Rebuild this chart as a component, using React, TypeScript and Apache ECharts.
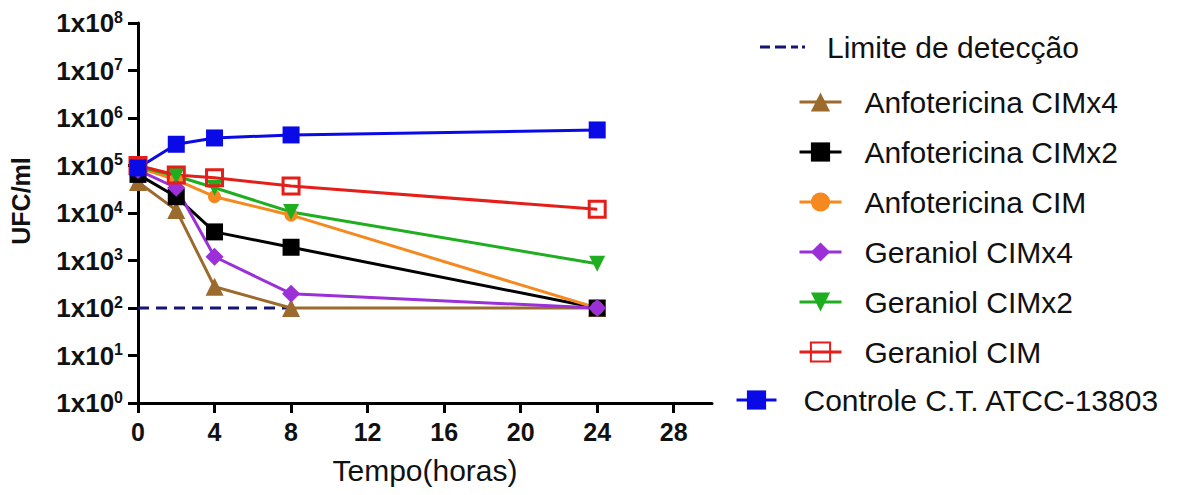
import React, { useEffect, useRef } from "react";
import * as echarts from "echarts";

const hours = [0, 2, 4, 8, 24];
const limitHours = [0, 8];
const limitValues = [100, 100];
const anfoCIMx4 = [45000, 11500, 280, 100, 100];
const anfoCIMx2 = [65000, 22000, 4000, 1900, 100];
const anfoCIM = [90000, 50000, 22000, 9000, 100];
const geraCIMx4 = [80000, 34000, 1200, 200, 100];
const geraCIMx2 = [95000, 60000, 34000, 10500, 850];
const geraCIM = [100000, 63000, 55000, 37000, 12000];
const controle = [89000, 280000, 380000, 440000, 560000];
const xTicks = [0, 4, 8, 12, 16, 20, 24, 28];

const FONT = "'Liberation Sans', Arial, sans-serif";

const pairs = (xs: number[], ys: number[]) => xs.map((x, i) => [x, ys[i]]);

export default function App() {
  const ref = useRef<HTMLDivElement>(null);
  useEffect(() => {
    if (!ref.current) return;
    const chart = echarts.init(ref.current, null, { renderer: "svg" });
    const mk = (
      name: string,
      ys: number[],
      color: string,
      symbol: string,
      size: number
    ) => ({
      name,
      type: "line",
      data: pairs(hours, ys),
      symbol,
      symbolSize: size,
      lineStyle: { color, width: 3 },
      itemStyle: { color },
      emphasis: { disabled: true },
    });
    const legendText = (pad: number) => ({
      fontFamily: FONT,
      fontSize: 30,
      color: "#111",
      lineHeight: 34,
      padding: [0, 0, 0, pad],
    });
    const option: any = {
      animation: false,
      backgroundColor: "#fff",
      grid: { left: 138, right: 477, top: 23, bottom: 92 },
      legend: [
        {
          data: [
            {
              name: "Limite de detecção",
              icon: "path://M0,0h10v3h-10z M15,0h11v3h-11z M31,0h7v3h-7z M42,0h3v3h-3z",
              itemStyle: { color: "#151575" },
            },
          ],
          orient: "vertical",
          left: 760,
          top: 30,
          padding: 0,
          itemWidth: 45,
          itemHeight: 18,
          textStyle: legendText(17),
        },
        {
          data: [
            "Anfotericina CIMx4",
            "Anfotericina CIMx2",
            "Anfotericina CIM",
            "Geraniol CIMx4",
            "Geraniol CIMx2",
            "Geraniol CIM",
          ],
          orient: "vertical",
          left: 798,
          top: 85,
          padding: 0,
          itemGap: 16,
          itemWidth: 42,
          itemHeight: 24,
          lineStyle: { width: 3 },
          textStyle: legendText(18),
        },
        {
          data: ["Controle C.T. ATCC-13803"],
          orient: "vertical",
          left: 735,
          top: 383,
          padding: 0,
          itemWidth: 40,
          itemHeight: 24,
          lineStyle: { width: 3 },
          textStyle: legendText(22),
        },
      ],
      xAxis: {
        type: "value",
        min: 0,
        max: 30,
        name: "Tempo(horas)",
        nameLocation: "middle",
        nameGap: 52,
        nameTextStyle: { fontFamily: FONT, fontSize: 30, color: "#111" },
        axisLine: { onZero: false, lineStyle: { color: "#000", width: 3 } },
        axisTick: {
          customValues: xTicks,
          length: 10,
          lineStyle: { color: "#000", width: 3 },
        },
        axisLabel: {
          customValues: xTicks,
          margin: 16,
          fontFamily: FONT,
          fontSize: 25,
          fontWeight: "bold",
          color: "#111",
        },
        splitLine: { show: false },
      },
      yAxis: {
        type: "log",
        logBase: 10,
        min: 1,
        max: 1e8,
        splitNumber: 8,
        name: "UFC/ml",
        nameLocation: "middle",
        nameGap: 105,
        nameRotate: 90,
        nameTextStyle: {
          fontFamily: FONT,
          fontSize: 25,
          fontWeight: "bold",
          color: "#111",
          padding: [0, 0, 0, 24],
        },
        axisLine: { show: true, lineStyle: { color: "#000", width: 3 } },
        axisTick: { show: true, length: 10, lineStyle: { color: "#000", width: 3 } },
        axisLabel: {
          margin: 15,
          formatter: (v: number) => `{b|1x10}{s|${Math.round(Math.log10(v))}}`,
          rich: {
            b: {
              fontFamily: FONT,
              fontSize: 26,
              fontWeight: "bold",
              color: "#111",
              lineHeight: 28,
            },
            s: {
              fontFamily: FONT,
              fontSize: 16,
              fontWeight: "bold",
              color: "#111",
              lineHeight: 16,
              verticalAlign: "top",
            },
          },
        },
        splitLine: { show: false },
      },
      series: [
        {
          name: "Limite de detecção",
          type: "line",
          data: pairs(limitHours, limitValues),
          showSymbol: false,
          symbol: "none",
          lineStyle: { color: "#151575", width: 3, type: [11, 7] },
          itemStyle: { color: "#151575" },
          emphasis: { disabled: true },
        },
        mk("Anfotericina CIMx4", anfoCIMx4, "#9c6a2c", "triangle", 18),
        mk("Anfotericina CIMx2", anfoCIMx2, "#000000", "rect", 17),
        mk("Anfotericina CIM", anfoCIM, "#f5891f", "circle", 13),
        mk("Geraniol CIMx4", geraCIMx4, "#9b30d9", "diamond", 18),
        mk("Geraniol CIMx2", geraCIMx2, "#1fae1f", "path://M0,0 L10,0 L5,9 Z", 16),
        {
          name: "Geraniol CIM",
          type: "line",
          data: pairs(hours, geraCIM),
          symbol: "rect",
          symbolSize: 16,
          lineStyle: { color: "#e41f1a", width: 3 },
          itemStyle: { color: "rgba(255,255,255,0)", borderColor: "#e41f1a", borderWidth: 3 },
          emphasis: { disabled: true },
        },
        mk("Controle C.T. ATCC-13803", controle, "#0a0ae6", "rect", 17),
      ],
    };
    chart.setOption(option);
    return () => chart.dispose();
  }, []);
  return (
    <div
      ref={ref}
      style={{ position: "fixed", left: 0, top: 0, width: 1189, height: 495 }}
    />
  );
}
